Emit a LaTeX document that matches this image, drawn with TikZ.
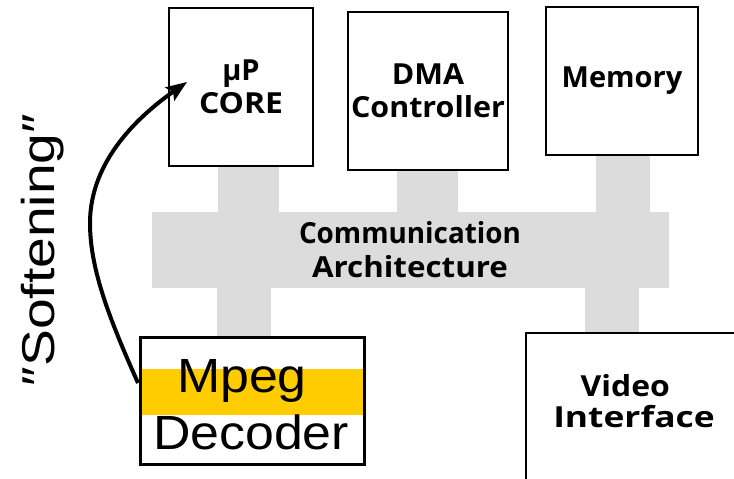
\documentclass[tikz,border=0pt]{standalone}
\usepackage{fontspec}
\usepackage{graphicx}
\setmainfont{Liberation Sans}
\newfontfamily\lblfont{Open Sans}
\usetikzlibrary{arrows.meta}
\definecolor{busgray}{HTML}{DCDCDC}
\definecolor{hiyellow}{HTML}{FFCC00}
\newcommand{\wider}[2]{\scalebox{#1}[1]{#2}}
\tikzset{
  blockbox/.style={draw=black, line width=2pt, fill=white, inner sep=0pt,
    align=center, font=\lblfont\bfseries\fontsize{29}{33}\selectfont},
  buslink/.style={fill=busgray, draw=none},
  bigtext/.style={font=\fontsize{48}{52}\selectfont, inner sep=0pt, anchor=base},
  softarrow/.style={line width=4pt, -{Stealth[length=21pt,width=16pt,inset=4pt]}},
}
\begin{document}
\begin{tikzpicture}[x=1pt, y=-1pt]
\useasboundingbox (0,0) rectangle (734,479);

% communication architecture: bus with its stubs
\fill[buslink] (218,160) rectangle (279,214);
\fill[buslink] (397,165) rectangle (458,214);
\fill[buslink] (596,150) rectangle (650,214);
\fill[buslink] (217,286) rectangle (271,340);
\fill[buslink] (585,286) rectangle (639,336);
\node[buslink, minimum width=517pt, minimum height=76pt, inner sep=0pt,
      align=center, font=\lblfont\bfseries\fontsize{29}{34}\selectfont]
      (bus) at (410,250) {\wider{0.96}{Communication}\\ \wider{1.08}{Architecture}};

% processing blocks
\node[blockbox, minimum width=144pt, minimum height=158pt] (core) at (241,87)
      {µP\\\wider{1.1}{CORE}};
\node[blockbox, minimum width=160pt, minimum height=158pt] (dma) at (428,91)
      {\wider{1.05}{DMA}\\\wider{1.05}{Controller}};
\node[blockbox, minimum width=152pt, minimum height=148pt] (mem) at (622,81) {Memory};

% video interface block, running off the page edge
\node[blockbox, minimum width=234pt, minimum height=167pt] (vid) at (643,416.5) {};
\node[font=\lblfont\bfseries\fontsize{29}{31}\selectfont, align=center, inner sep=0pt]
      (vidlbl) at (634,401) {\wider{1.1}{Video}\hspace*{0.6em}\\\wider{1.22}{Interface}};

% Mpeg decoder block with highlight band
\node[draw=black, line width=3pt, fill=white, minimum width=224pt, minimum height=127pt,
      inner sep=0pt] (mp) at (252,400.5) {};
\fill[hiyellow] (142,369) rectangle (362.5,415);
\node[bigtext] (mpeg) at (242,392) {\wider{1.08}{Mpeg}};
\node[bigtext] (dec) at (251,449) {\wider{1.08}{Decoder}};

% softening label and arrow
\node[rotate=90, anchor=base, inner sep=0pt, font=\fontsize{46}{50}\selectfont]
      (soft) at (54,250) {\wider{1.2}{″Softening″}};
\coordinate (arrS) at (138,383);
\coordinate (arrE) at (187,82);
\draw[softarrow] (arrS) .. controls (110,320) and (90,270) .. (90,223)
                 .. controls (90,160) and (140,115) .. (arrE);
\end{tikzpicture}
\end{document}
